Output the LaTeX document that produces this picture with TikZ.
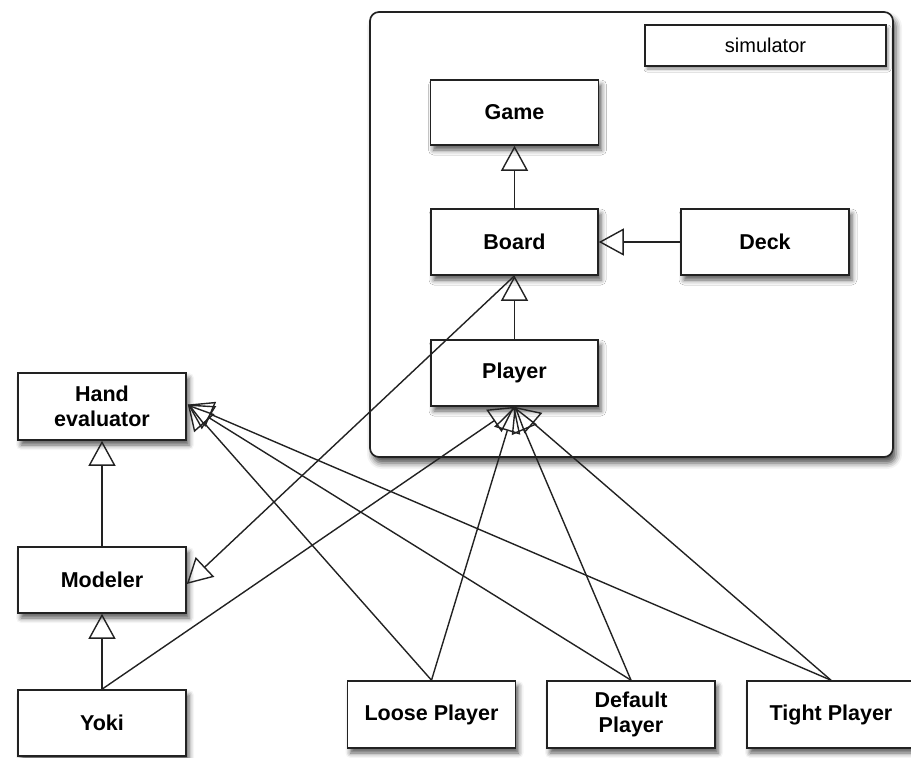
\documentclass[tikz,border=0pt]{standalone}
\usepackage{fontspec}
\setmainfont{Liberation Sans}
\usetikzlibrary{arrows.meta,shadows.blur}
\definecolor{ln}{HTML}{222222}
\begin{document}
\begin{tikzpicture}[x=1pt,y=-1pt,
  cls/.style={draw=ln, line width=1.6pt, fill=white, minimum width=168pt, minimum height=66pt,
    inner sep=0pt, align=center, font=\fontsize{21.5}{25}\selectfont\bfseries,
    blur shadow={shadow xshift=3pt,shadow yshift=-5pt,shadow blur radius=5pt,shadow opacity=65}},
  gen/.style={draw=ln, line width=1.4pt, -{Triangle[open,length=25pt,width=27pt]}}]
\useasboundingbox (0,0) rectangle (911,758);
% simulator package
\node[draw=ln, line width=1.7pt, rounded corners=9pt, fill=white, minimum width=523pt, minimum height=445pt,
  inner sep=0pt, blur shadow={shadow xshift=3pt,shadow yshift=-6pt,shadow blur radius=6pt,shadow opacity=70}]
  (sim) at (631.5,234.5) {};
\node[draw=ln, line width=1.5pt, fill=white, minimum width=241pt, minimum height=41pt, inner sep=0pt,
  font=\fontsize{20}{24}\selectfont,
  blur shadow={shadow xshift=2pt,shadow yshift=-3pt,shadow blur radius=3pt,shadow opacity=45}]
  (simlabel) at (765.5,45.5) {simulator};
% classes
\node[cls, minimum height=65pt] (game) at (514.5,112.5) {Game};
\node[cls, minimum width=167pt] (board) at (514.5,242) {Board};
\node[cls] (deck) at (765,242) {Deck};
\node[cls, minimum width=167pt] (player) at (514.5,373) {Player};
\node[cls, minimum height=67pt] (hand) at (102,406.5) {Hand\\evaluator};
\node[cls] (modeler) at (102,580) {Modeler};
\node[cls] (yoki) at (102,723) {Yoki};
\node[cls, minimum height=67pt] (loose) at (431.5,714.5) {Loose Player};
\node[cls, minimum height=67pt] (default) at (631,714.5) {Default\\Player};
\node[cls, minimum height=67pt] (tight) at (831,714.5) {Tight Player};
% connectors
\draw[gen] (board.north) -- (game.south);
\draw[gen] (deck.west) -- (board.east);
\draw[gen] (player.north) -- (board.south);
\draw[gen] (board.south) -- ([yshift=-4pt]modeler.east);
\draw[gen] (modeler.north) -- (hand.south);
\draw[gen] (yoki.north) -- (modeler.south);
\draw[gen] (yoki.north) -- (player.south);
\draw[gen] (loose.north) -- (player.south);
\draw[gen] (default.north) -- (player.south);
\draw[gen] (tight.north) -- (player.south);
\draw[gen] (loose.north) -- ([xshift=1pt,yshift=2pt]hand.east);
\draw[gen] (default.north) -- ([xshift=1pt,yshift=2pt]hand.east);
\draw[gen] (tight.north) -- ([xshift=1pt,yshift=2pt]hand.east);
\end{tikzpicture}
\end{document}
